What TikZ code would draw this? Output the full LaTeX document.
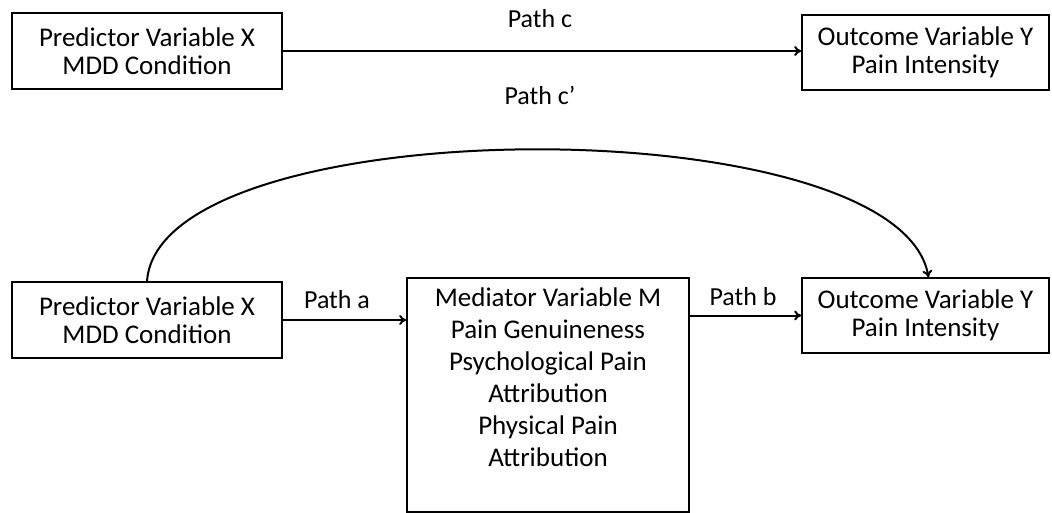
\documentclass[tikz,border=0pt]{standalone}
\usepackage{fontspec}
\setmainfont{Carlito}
\usetikzlibrary{arrows.meta}
\begin{document}
\begin{tikzpicture}[x = 1pt,y = 1pt,
        varbox/.style = {draw = black,line width = 1.6pt,align = center,font = \fontsize{27}{28.5}\selectfont,inner sep = 0pt},
        pathlbl/.style = {font = \fontsize{26}{28}\selectfont},
        link/.style = {line width = 2pt,-{To[length = 7pt,width = 10pt]}}]
        \useasboundingbox (0,0) rectangle (1052,-512);
        % top: total effect
        \node [varbox,minimum width = 270pt,minimum height = 76pt] (xtop) at (147,-51) {Predictor Variable X\\MDD Condition};
        \node [varbox,minimum width = 247pt,minimum height = 75pt] (ytop) at (925.5,-52.5) {Outcome Variable Y\\Pain Intensity};
        \draw [link] (xtop.east) -- (xtop.east -| ytop.west);
        \node [pathlbl] (lblc) at (540,-19) {Path c};
        % bottom: mediation model
        \node [varbox,minimum width = 270pt,minimum height = 76pt] (xbot) at (147,-320) {Predictor Variable X\\MDD Condition};
        \node [varbox,minimum width = 282pt,minimum height = 234pt,anchor = north] (med) at (548,-277) {};
        \node [align = center,font = \fontsize{27}{32}\selectfont,anchor = north] (medtext) at (548,-284) {Mediator Variable M\\Pain Genuineness\\Psychological Pain\\Attribution\\Physical Pain\\Attribution};
        \node [varbox,minimum width = 247pt,minimum height = 75pt] (ybot) at (925.5,-315.5) {Outcome Variable Y\\Pain Intensity};
        \draw [link] (xbot.east) -- (xbot.east -| med.west);
        \draw [link] (med.east |- ybot.west) -- (ybot.west);
        \draw [link] (xbot.north) to [out = 86,in = 100,looseness = 0.57] ([xshift = 3pt]ybot.north);
        \node [pathlbl] (lbla) at (337,-300) {Path a};
        \node [pathlbl] (lblb) at (743,-297) {Path b};
        \node [pathlbl] (lblcp) at (540,-95) {Path c’};
    \end{tikzpicture}
\end{document}
